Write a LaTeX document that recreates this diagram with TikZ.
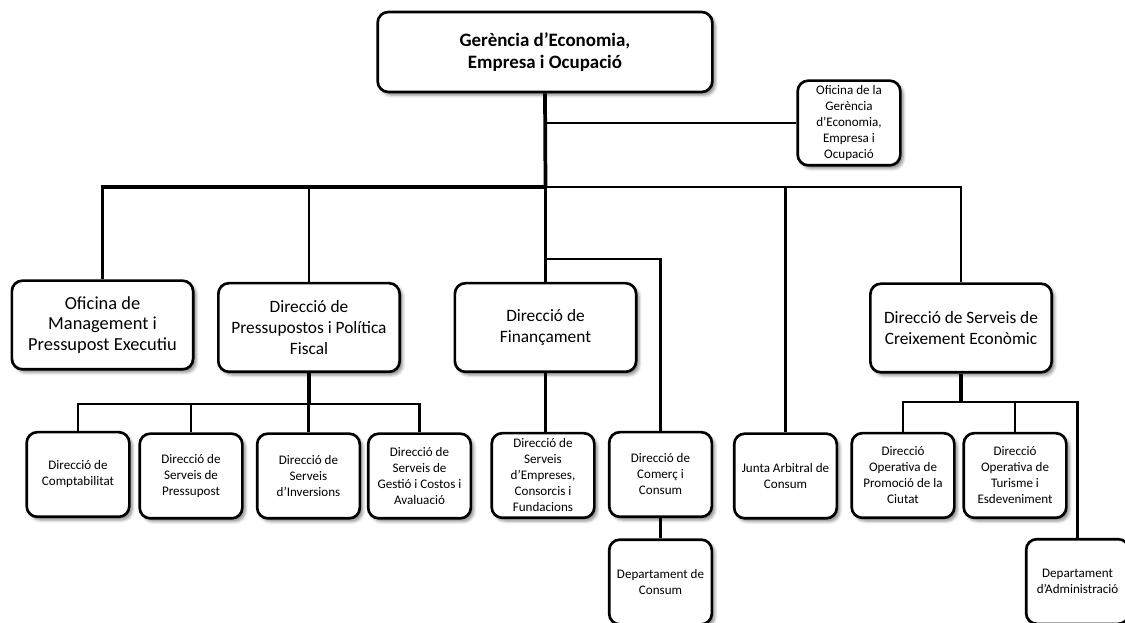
\documentclass[tikz,border=0pt]{standalone}
\usepackage{fontspec}
\setmainfont{Carlito}
\usetikzlibrary{shadows.blur}

\tikzset{every picture/.style={line width=0.75pt}}
\tikzset{
  unit/.style={draw, line width=2pt, rounded corners=8pt, fill=white, align=center, inner sep=0pt,
    blur shadow={shadow xshift=2.2pt, shadow yshift=-2.4pt, shadow blur radius=2.2pt, shadow opacity=45}},
  headbox/.style={unit, minimum width=251pt, minimum height=60pt, font=\fontsize{14.2}{17}\selectfont\bfseries},
  mainbox/.style={unit, minimum width=136pt, minimum height=66.5pt, font=\fontsize{13}{15.5}\selectfont},
  subbox/.style={unit, minimum width=77pt, minimum height=63.5pt, font=\fontsize{9.8}{12}\selectfont},
  link/.style={line width=2pt},
  trunk/.style={line width=2.8pt}
}

\begin{document}
\begin{tikzpicture}[x=0.75pt,y=0.75pt,yscale=-1,xscale=1]
	\useasboundingbox (0,0) rectangle (1125,623);

	% Text Node
	\node[headbox] (ger) at (545,52) {Gerència d’Economia,\\Empresa i Ocupació};
	% Text Node
	\node[subbox] (ofg) at (849,123) {Oficina de la\\Gerència\\d’Economia,\\Empresa i\\Ocupació};

	% Text Node
	\node[mainbox, font=\fontsize{13.8}{15.5}\selectfont] (ofm) at (102.5,325) {Oficina de\\Management i\\Pressupost Executiu};
	% Text Node
	\node[mainbox] (pre) at (309,327.5) {Direcció de\\Pressupostos i Política\\Fiscal};
	% Text Node
	\node[mainbox] (fin) at (545.5,327.5) {Direcció de\\Finançament};
	% Text Node
	\node[mainbox] (cre) at (961,328) {Direcció de Serveis de\\Creixement Econòmic};

	% Text Node
	\node[subbox] (cmp) at (78,474.5) {Direcció de\\Comptabilitat};
	% Text Node
	\node[subbox] (spr) at (191,476) {Direcció de\\Serveis de\\Pressupost};
	% Text Node
	\node[subbox] (inv) at (308.5,476) {Direcció de\\Serveis\\d’Inversions};
	% Text Node
	\node[subbox] (gst) at (419.5,476) {Direcció de\\Serveis de\\Gestió i Costos i\\Avaluació};
	% Text Node
	\node[subbox] (emp) at (543,475.5) {Direcció de\\Serveis\\d’Empreses,\\Consorcis i\\Fundacions};
	% Text Node
	\node[subbox] (com) at (660.5,474.5) {Direcció de\\Comerç i\\Consum};
	% Text Node
	\node[subbox] (dco) at (660.5,582) {Departament de\\Consum};
	% Text Node
	\node[subbox] (jun) at (785.5,476) {Junta Arbitral de\\Consum};
	% Text Node
	\node[subbox] (pro) at (903,475.5) {Direcció\\Operativa de\\Promoció de la\\Ciutat};
	% Text Node
	\node[subbox] (tur) at (1015,475.5) {Direcció\\Operativa de\\Turisme i\\Esdeveniment};
	% Text Node
	\node[subbox] (adm) at (1077.5,581.5) {Departament\\d’Administració};

	% bus points
	\coordinate (busM) at (545.5,187);
	\coordinate (brF) at (545.5,259);
	\coordinate (busP) at (309,404);
	\coordinate (busC) at (961,402);

	%Straight Lines
	\draw[trunk] (ger.south) -- (busM);
	\draw[link] (busM) -- (fin.north);
	\draw[link] (ger.south |- ofg.west) -- (ofg.west);
	\draw[trunk] (ofm.north) |- (busM);
	\draw[link] (busM) -| (cre.north);
	\draw[link] (pre.north) -- (pre.north |- busM);
	\draw[link] (jun.north) -- (jun.north |- busM);
	\draw[link] (brF) -| (com.north);
	\draw[link] (fin.south) -- (fin.south |- emp.north);
	\draw[link] (com.south) -- (dco.north);
	%Straight Lines
	\draw[trunk] (pre.south) -- (busP);
	\draw[link] (cmp.north) |- (busP) -| (gst.north);
	\draw[link] (spr.north) -- (spr.north |- busP);
	\draw[link] (inv.north) -- (inv.north |- busP);
	%Straight Lines
	\draw[trunk] (cre.south) -- (busC);
	\draw[link] (pro.north) |- (busC) -| (adm.north);
	\draw[link] (tur.north) -- (tur.north |- busC);

\end{tikzpicture}
\end{document}
